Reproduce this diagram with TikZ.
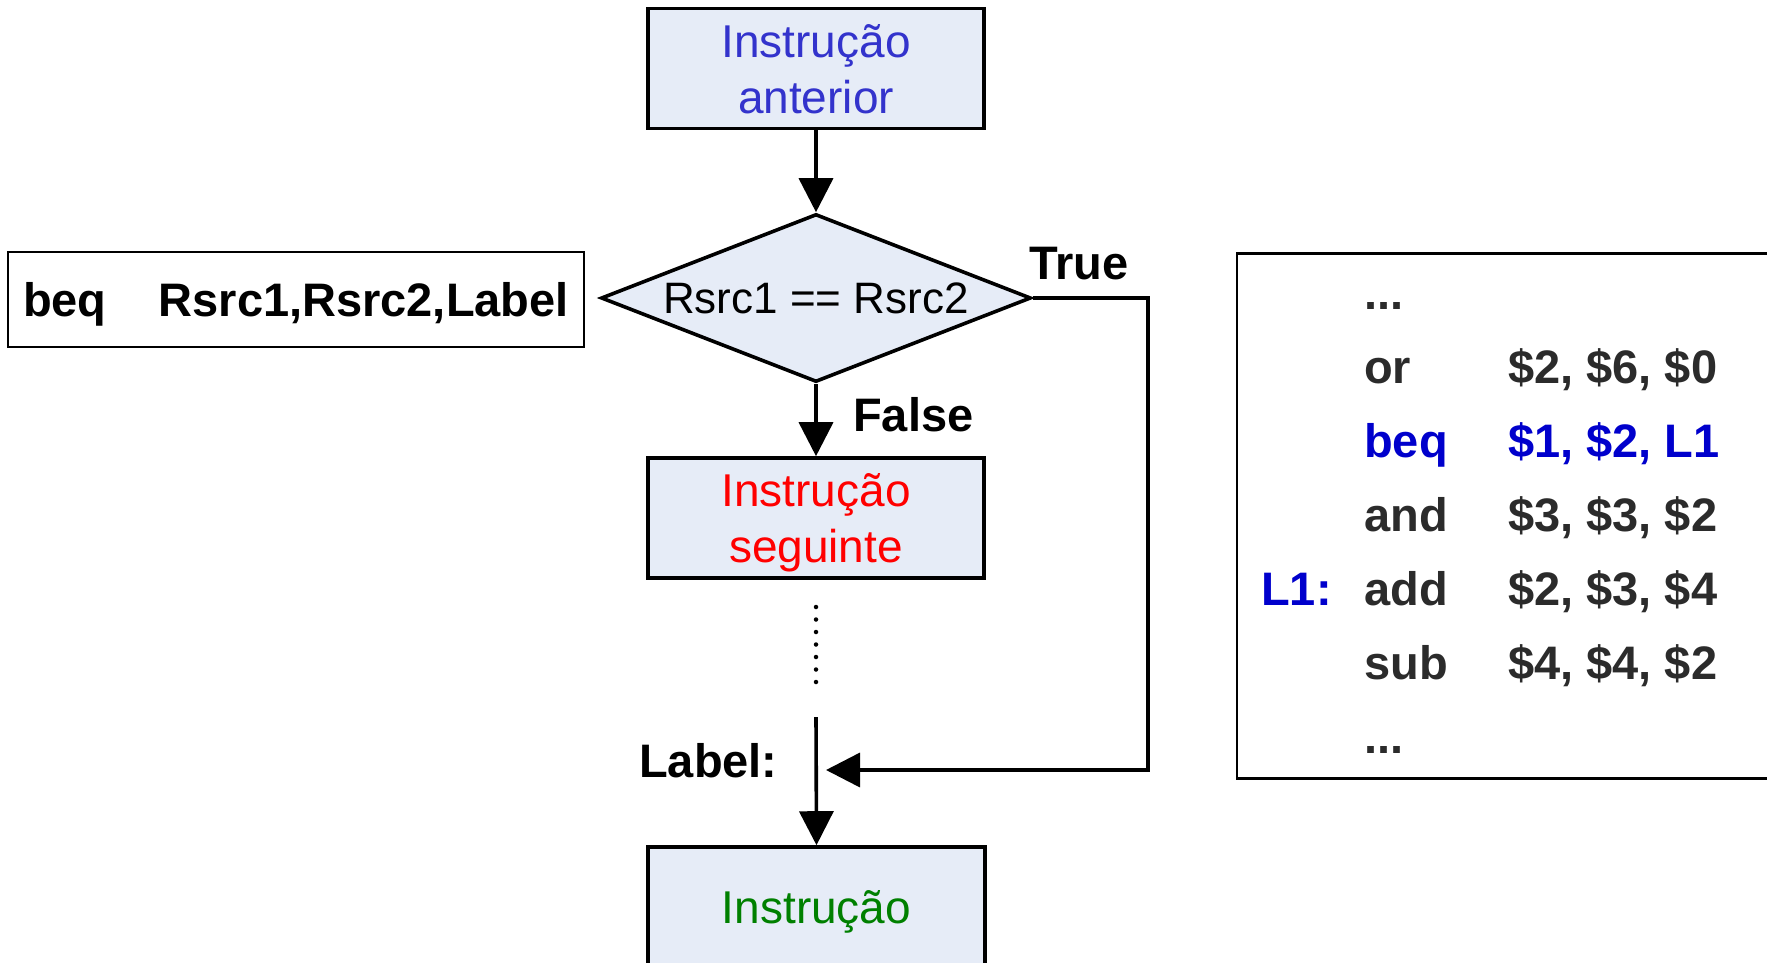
\documentclass[tikz,border=0pt]{standalone}
\usepackage{fontspec}
\setmainfont{Liberation Sans}
\usetikzlibrary{arrows.meta,shapes.geometric}
\definecolor{boxfill}{RGB}{230,236,247}
\definecolor{prevblue}{RGB}{51,51,204}
\definecolor{codeblue}{RGB}{0,0,204}
\definecolor{codegray}{RGB}{43,43,43}
\definecolor{nextred}{RGB}{255,0,0}
\definecolor{targetgreen}{RGB}{0,128,0}
\begin{document}
\begin{tikzpicture}[x=1pt,y=-1pt,
  procbox/.style={draw=black, line width=3.6pt, fill=boxfill, rectangle, minimum width=336pt, minimum height=120pt, align=center, inner sep=0pt, text depth=0pt, font=\fontsize{46}{56}\selectfont},
  decision/.style={draw=black, line width=3.6pt, fill=boxfill, diamond, shape aspect=2.56, minimum width=430pt, minimum height=168pt, inner sep=0pt, font=\fontsize{44}{50}\selectfont},
  flow/.style={line width=3.6pt, -{Triangle[length=34pt,width=34pt]}},
  lbl/.style={font=\fontsize{47}{56}\selectfont\bfseries, inner sep=0pt, anchor=base west},
  codeline/.style={font=\fontsize{47}{56}\selectfont\bfseries, inner sep=0pt, anchor=base west, text=codegray},
  framebox/.style={draw=black, line width=2.4pt, rectangle, inner sep=0pt}
]
\useasboundingbox (0,0) rectangle (1767,962);
\clip (0,0) rectangle (1767,962);

% flowchart
\node[procbox, text=prevblue] (prev) at (816,68.5) {Instrução\\anterior};
\node[decision] (dec) at (816,298) {Rsrc1 == Rsrc2};
\node[procbox, text=nextred] (next) at (816,518) {Instrução\\seguinte};
\node[procbox, text=targetgreen, minimum width=337pt] (target) at (816.5,907) {Instrução};

\draw[flow] (prev.south) -- (dec.north);
\draw[flow] (dec.south) -- (next.north);
\node[lbl] (falselbl) at (853,431) {False};
\node[lbl] (truelbl) at (1029,279) {True};

\coordinate (jump) at (826,770);
\draw[flow] (dec.east) -- ++(115,0) |- (jump);

\coordinate (dotA) at (816,607);
\coordinate (dotB) at (816,682);
\draw[line width=4.5pt, line cap=round, dash pattern=on 0pt off 12.5pt] (dotA) -- (dotB);

\coordinate (lblstart) at (816,717);
\draw[flow] (lblstart) -- (target.north);
\node[lbl] (labeltxt) at (639,777) {Label:};

% syntax box
\node[framebox, minimum width=576pt, minimum height=95pt, text depth=0pt, font=\fontsize{47}{56}\selectfont\bfseries] (syntax) at (296,299.5) {beq\hspace{52pt}Rsrc1,Rsrc2,Label};

% code box
\node[framebox, minimum width=600pt, minimum height=525pt] (code) at (1537,516) {};
\node[codeline] (r0) at (1364,309) {...};
\node[codeline] (r1) at (1364,383) {\makebox[144pt][l]{or}\$2, \$6, \$0};
\node[codeline, text=codeblue] (r2) at (1364,457) {\makebox[144pt][l]{beq}\$1, \$2, L1};
\node[codeline] (r3) at (1364,531) {\makebox[144pt][l]{and}\$3, \$3, \$2};
\node[codeline, text=codeblue] (l1) at (1261,605) {L1:};
\node[codeline] (r4) at (1364,605) {\makebox[144pt][l]{add}\$2, \$3, \$4};
\node[codeline] (r5) at (1364,679) {\makebox[144pt][l]{sub}\$4, \$4, \$2};
\node[codeline] (r6) at (1364,753) {...};
\end{tikzpicture}
\end{document}
